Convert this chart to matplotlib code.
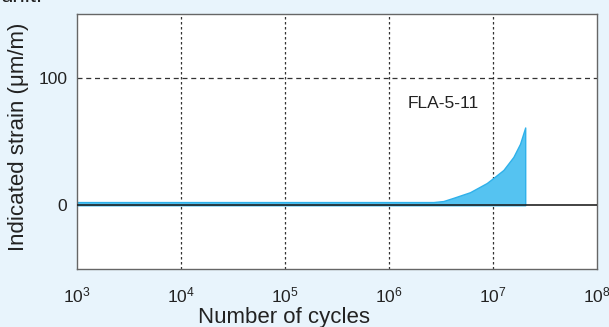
import numpy as np
import matplotlib
matplotlib.use("Agg")
import matplotlib.pyplot as plt

plt.rcParams['font.family'] = ['Liberation Sans', 'DejaVu Sans']
plt.rcParams['mathtext.fontset'] = 'custom'
plt.rcParams['mathtext.rm'] = 'Liberation Sans'
plt.rcParams['mathtext.it'] = 'Liberation Sans'

# strain envelope (cycles, indicated strain in um/m)
cycles = [1e3, 1e5, 2.67e6, 3.33e6, 4.15e6, 6.0e6, 8.7e6, 1e7, 1.26e7, 1.57e7,
          1.82e7, 2.04e7, 2.041e7]
strain = [2.5, 2.5, 2.5, 3.3, 5.8, 10.2, 17.4, 21.2, 27.7, 37.9, 48.2, 61, 0]

x_ticks = [1e3, 1e4, 1e5, 1e6, 1e7, 1e8]
y_ticks = [0, 100]
gauge_label = "FLA-5-11"

BG = "#e8f4fc"
FILL = "#55c3f1"
EDGE = "#2fb1ea"

fig = plt.figure(figsize=(6.09, 3.27), dpi=100, facecolor=BG)
ax = fig.add_axes([77 / 609, 58 / 327, 520 / 609, 255 / 327])
ax.set_facecolor("white")

ax.fill_between(cycles, 0, strain, color=FILL, edgecolor=EDGE, linewidth=1, zorder=2)

ax.set_xscale("log")
ax.set_xlim(1e3, 1e8)
ax.set_ylim(-50, 150)

for xv in x_ticks[1:-1]:
    ax.axvline(xv, color="#333333", lw=0.9, ls=(0, (2, 2)), zorder=1)
ax.axhline(100, color="#333333", lw=0.9, ls=(0, (4, 3)), zorder=1)
ax.axhline(0, color="#222222", lw=1.2, zorder=3)

ax.set_xticks(x_ticks)
ax.set_xticklabels([r"$10^{%d}$" % int(np.log10(v)) for v in x_ticks])
ax.minorticks_off()
ax.set_yticks(y_ticks)
ax.tick_params(axis="both", length=0, labelsize=12.5, colors="#222222")
ax.tick_params(axis="x", pad=12)
ax.tick_params(axis="y", pad=7)

for s in ax.spines.values():
    s.set_color("#666666")
    s.set_linewidth(1)

ax.text(3.3e6, 80, gauge_label, ha="center", va="center", fontsize=12.5, color="#222222")

fig.text(19 / 609, 1 - 137 / 327, "Indicated strain (\u03bcm/m)", rotation=90,
         ha="center", va="center", fontsize=16, color="#222222")
fig.text(284 / 609, 1 - 323 / 327, "Number of cycles", ha="center", va="baseline",
         fontsize=16, color="#222222")
fig.text(0.0, 1 - 2 / 327, "unit.", ha="left", va="baseline", fontsize=16, color="#222222")

fig.savefig("out.png", dpi=100, facecolor=BG)
